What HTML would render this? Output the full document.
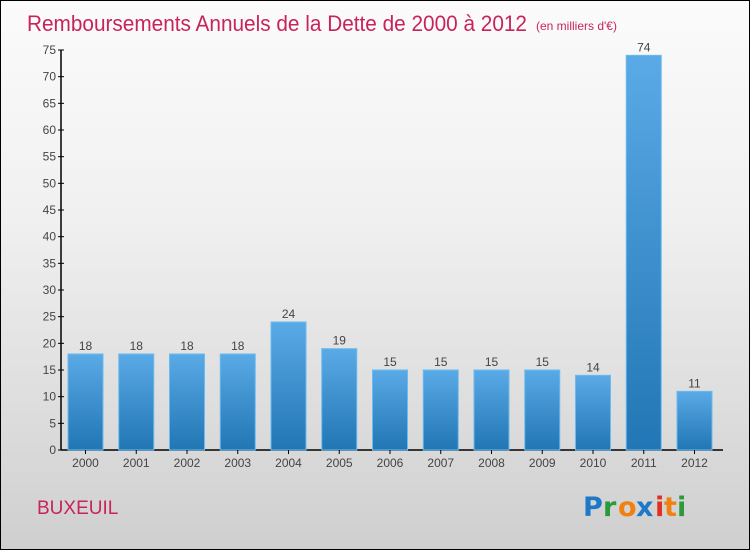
<!DOCTYPE html>
<html><head><meta charset="utf-8"><style>
body{margin:0}
#wrap{position:relative;width:748px;height:548px;border:1px solid #000;background:linear-gradient(#fbfbfb,#f0f0f0 40%,#cfcfcf);font-family:"Liberation Sans",sans-serif;overflow:hidden}
</style></head><body>
<div id="wrap">
<svg width="748" height="548" id="svg">
<defs><linearGradient id="bg" x1="0" y1="0" x2="0" y2="1"><stop offset="0" stop-color="#5aaae6"/><stop offset="1" stop-color="#2176b4"/></linearGradient></defs>
<text x="26" y="30" font-size="22" fill="#c8245a" textLength="500" lengthAdjust="spacingAndGlyphs">Remboursements Annuels de la Dette de 2000 à 2012</text>
<text x="535" y="29" font-size="12" fill="#c8245a">(en milliers d'€)</text>
<text x="36" y="513" font-size="19" fill="#c8245a">BUXEUIL</text>
<g font-size="27" font-weight="bold" font-family="'DejaVu Sans',sans-serif">
<text x="582" y="515" fill="#1e78c8">P</text><text x="602" y="515" fill="#2a9a3a">r</text><text x="617" y="515" fill="#f08010">o</text><text x="635" y="515" fill="#1e78c8">x</text><text x="654" y="515" fill="#e03020">i</text><text x="663" y="515" fill="#f08010">t</text><text x="676" y="515" fill="#2a9a3a">i</text>
</g>
<g id="plot"></g>
</svg>
</div>
<script>
const years=["2000","2001","2002","2003","2004","2005","2006","2007","2008","2009","2010","2011","2012"];
const values=[18,18,18,18,24,19,15,15,15,15,14,74,11];
const yTicks=[0,5,10,15,20,25,30,35,40,45,50,55,60,65,70,75];
const NS="http://www.w3.org/2000/svg";
const g=document.getElementById('plot');
const y=v=>449-v*(400/75);
const x=i=>67+i*50.75;
function mk(t,a){const e=document.createElementNS(NS,t);for(const k in a)e.setAttribute(k,a[k]);g.appendChild(e);return e;}
let ax=mk('line',{x1:60,y1:y(75),x2:60,y2:449,stroke:'#000','stroke-width':1.5});


let bx=mk('line',{x1:60,y1:449,x2:722,y2:449,stroke:'#000','stroke-width':1.5});


yTicks.forEach(t=>{
 let l=mk('line',{x1:57,x2:63,y1:y(t),y2:y(t),stroke:'#000'});
 
 
 let tx=mk('text',{x:55,y:y(t)+4,'font-size':12,fill:'#444','text-anchor':'end'});
 tx.textContent=t;
 
 
});
values.forEach((v,i)=>{
 let r=mk('rect',{x:x(i),y:y(v),width:35,height:449-y(v),fill:'url(#bg)',stroke:'#6bbaf0','stroke-width':1});
 
 
 let t=mk('text',{x:x(i)+17.5,y:y(v)-4,'font-size':12,fill:'#444','text-anchor':'middle'});
 t.textContent=v;
 
 
 let tk=mk('line',{x1:x(i)+17.5,x2:x(i)+17.5,y1:449,y2:453,stroke:'#000'});
 
 
 let xl=mk('text',{x:x(i)+17.5,y:466,'font-size':12,fill:'#444','text-anchor':'middle'});
 xl.textContent=years[i];
 
 
});
</script>
</body></html>
